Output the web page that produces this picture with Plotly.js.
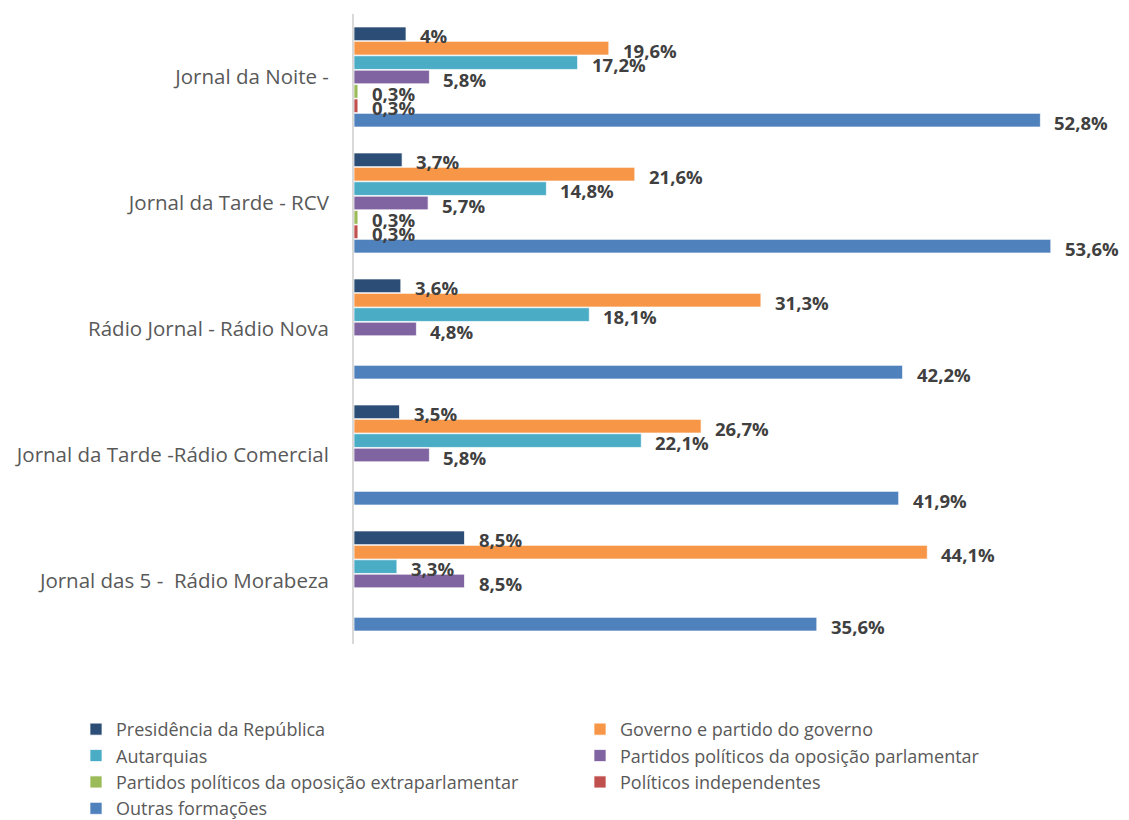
<!DOCTYPE html>
<html>
<head>
<meta charset="utf-8">
<script src="https://cdn.plot.ly/plotly-3.0.1.min.js"></script>
<style>html,body{margin:0;padding:0;background:#fff;}#chart{width:1129px;height:820px;}</style>
</head>
<body>
<div id="chart"></div>
<script>
const categories = [
  "Jornal da Noite -",
  "Jornal da Tarde - RCV",
  "Rádio Jornal - Rádio Nova",
  "Jornal da Tarde -Rádio Comercial",
  "Jornal das 5 -  Rádio Morabeza"
];
const seriesNames = [
  "Presidência da República",
  "Governo e partido do governo",
  "Autarquias",
  "Partidos políticos da oposição parlamentar",
  "Partidos políticos da oposição extraparlamentar",
  "Políticos independentes",
  "Outras formações"
];
const presidencia   = [4, 3.7, 3.6, 3.5, 8.5];
const governo       = [19.6, 21.6, 31.3, 26.7, 44.1];
const autarquias    = [17.2, 14.8, 18.1, 22.1, 3.3];
const oposicaoParl  = [5.8, 5.7, 4.8, 5.8, 8.5];
const extraParl     = [0.3, 0.3, null, null, null];
const independentes = [0.3, 0.3, null, null, null];
const outras        = [52.8, 53.6, 42.2, 41.9, 35.6];

const seriesValues = [presidencia, governo, autarquias, oposicaoParl, extraParl, independentes, outras];
const colors = ["#2C4D75", "#F79646", "#4BACC6", "#8064A2", "#9BBB59", "#C0504D", "#4F81BD"];

const bargap = 0.2;
const nS = seriesValues.length;
const slot = (1 - bargap) / nS;

// legend columns: even-indexed series in first column, odd-indexed in second (row-major order)
const traces = seriesValues.map((vals, k) => ({
  type: "bar",
  orientation: "h",
  name: seriesNames[k],
  y: categories,
  x: vals,
  legend: (k % 2 === 0) ? "legend" : "legend2",
  marker: {color: colors[k], line: {color: "rgba(255,255,255,0.7)", width: 1}},
  hoverinfo: "x+name"
}));

const fmt = v => String(v).replace(".", ",") + "%";
const annotations = [];
seriesValues.forEach((vals, k) => {
  vals.forEach((v, i) => {
    if (v === null) return;
    annotations.push({
      x: v, y: i - (1 - bargap) / 2 + slot * (k + 0.5),
      xref: "x", yref: "y",
      text: fmt(v), showarrow: false,
      xanchor: "left", yanchor: "middle",
      xshift: 12, yshift: -2,
      font: {family: "Open Sans", size: 18.5, color: "#404040", weight: "bold"}
    });
  });
});

const legendFont = {family: "Open Sans", size: 18, color: "#595959"};
const legendCommon = {
  orientation: "h",
  xref: "container", yref: "container",
  xanchor: "left", yanchor: "top",
  entrywidth: 463, entrywidthmode: "pixels",
  font: legendFont, itemwidth: 30, traceorder: "normal",
  bgcolor: "rgba(0,0,0,0)"
};

const layout = {
  width: 1129, height: 820,
  margin: {l: 354, r: 21, t: 14, b: 176},
  paper_bgcolor: "#fff", plot_bgcolor: "#fff",
  barmode: "group",
  bargap: bargap,
  bargroupgap: 0.05,
  showlegend: true,
  font: {family: "Open Sans", color: "#595959"},
  xaxis: {range: [0, 58], showgrid: false, zeroline: false, showticklabels: false, showline: false, fixedrange: true},
  yaxis: {
    type: "category", autorange: "reversed",
    showgrid: false, zeroline: false,
    showline: true, linecolor: "#D9D9D9", linewidth: 2,
    ticks: "", ticklabelstandoff: 19,
    tickfont: {family: "Open Sans", size: 20.5, color: "#595959"}
  },
  legend: Object.assign({}, legendCommon, {x: 76 / 1129, y: 0.133}),
  legend2: Object.assign({}, legendCommon, {x: 580 / 1129, y: 0.133}),
  annotations: annotations
};

Plotly.newPlot("chart", traces, layout, {displayModeBar: false, staticPlot: true});
</script>
</body>
</html>
